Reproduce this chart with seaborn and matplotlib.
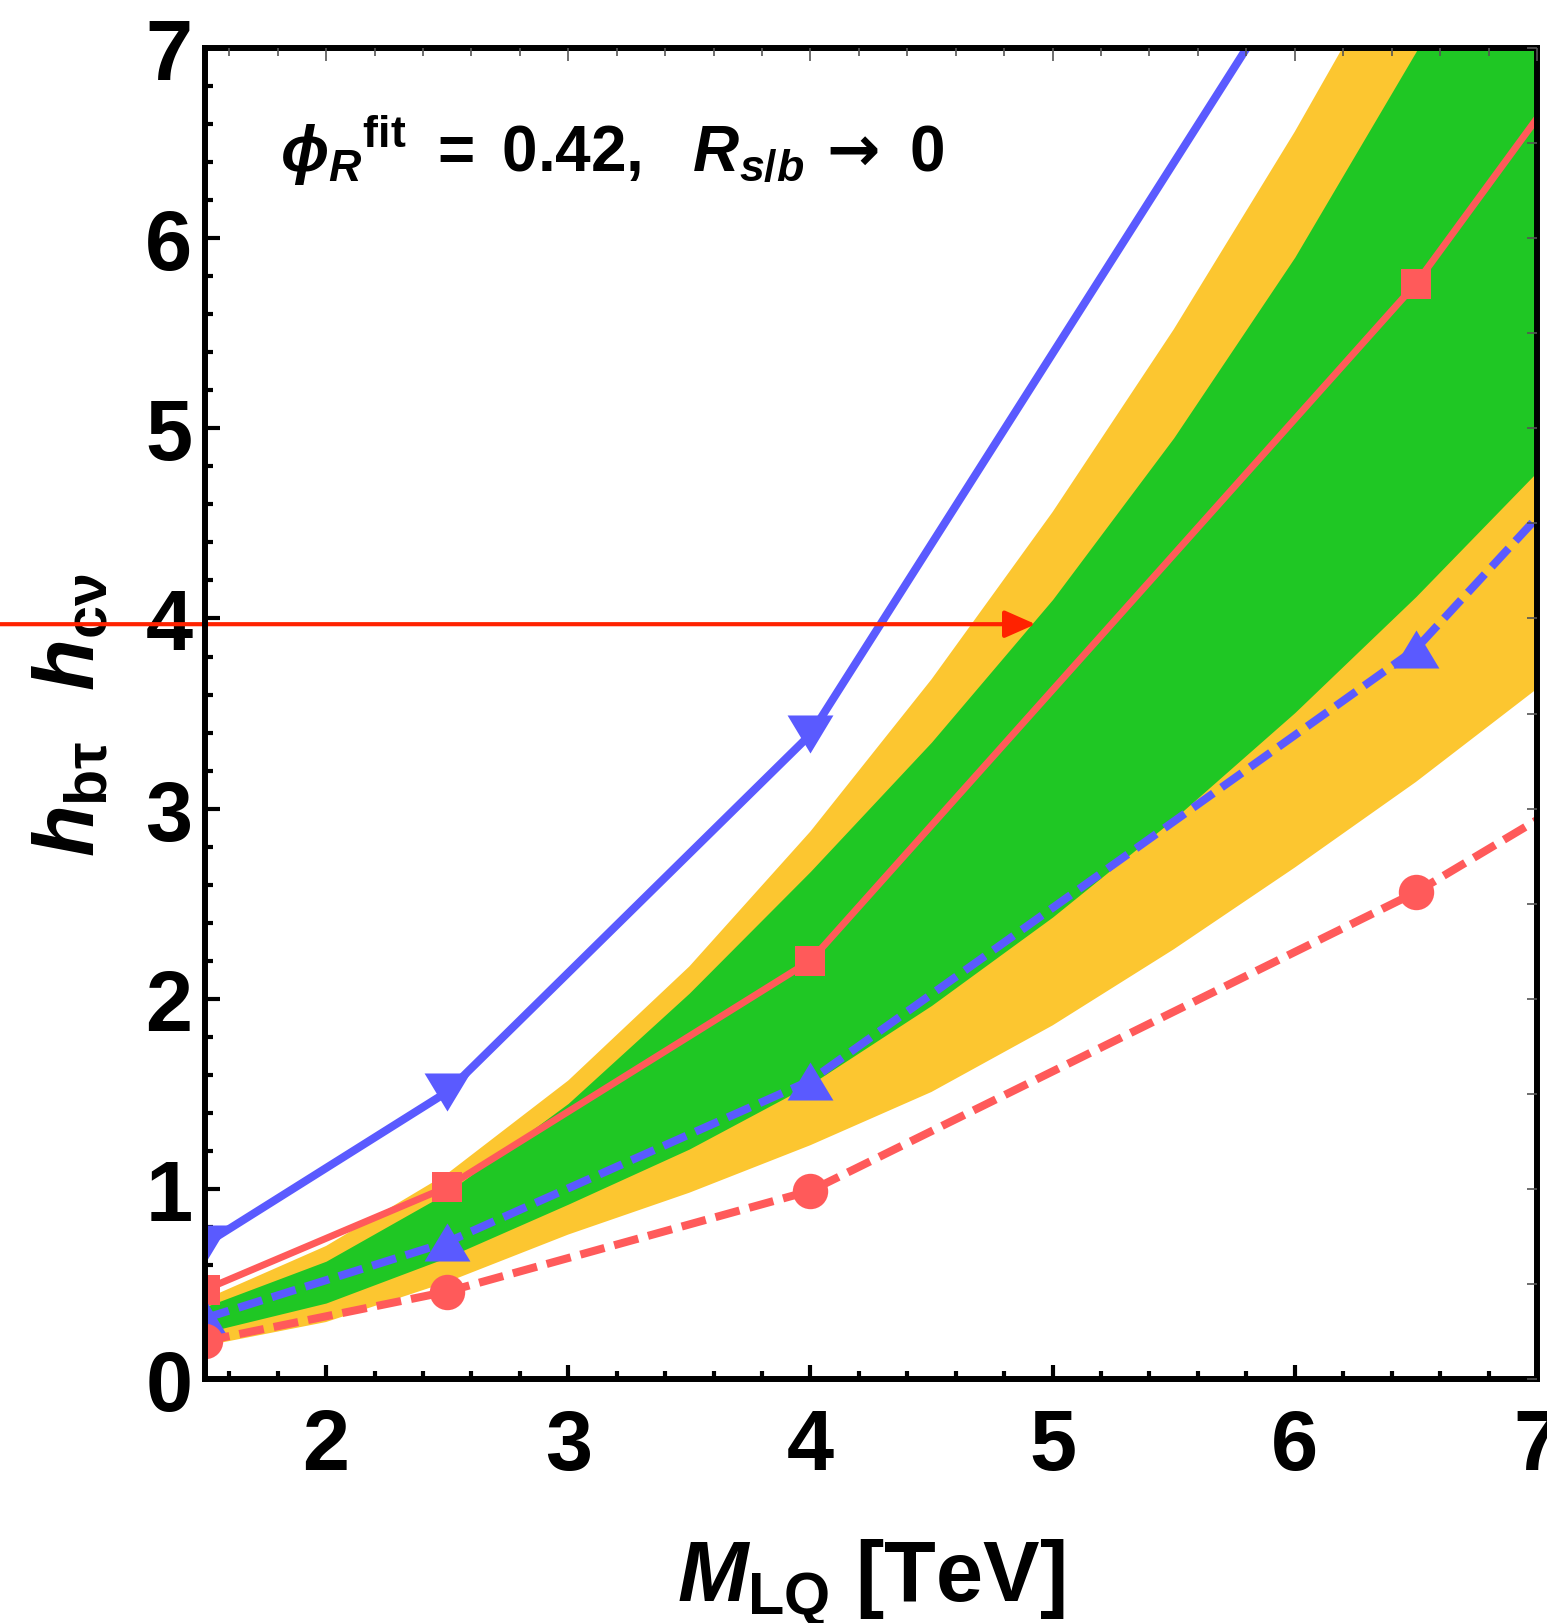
import numpy as np
import pandas as pd
import matplotlib
matplotlib.use("Agg")
import matplotlib.pyplot as plt
import seaborn as sns
from matplotlib import font_manager as fm
from matplotlib.ticker import MultipleLocator, NullLocator

# ---------------- data ----------------
band_mass = [1.5, 2.0, 2.5, 3.0, 3.5, 4.0, 4.5, 5.0, 5.5, 6.0, 6.5, 7.0]
yellow_hi = [0.42, 0.70, 1.08, 1.57, 2.17, 2.88, 3.68, 4.56, 5.52, 6.56, 7.68, 8.88]
green_hi = [0.38, 0.62, 0.98, 1.45, 2.03, 2.67, 3.35, 4.10, 4.95, 5.90, 6.98, 8.20]
green_lo = [0.245, 0.40, 0.64, 0.92, 1.21, 1.55, 1.965, 2.43, 2.945, 3.505, 4.115, 4.77]
yellow_lo = [0.175, 0.30, 0.51, 0.76, 0.98, 1.23, 1.51, 1.86, 2.26, 2.69, 3.14, 3.63]

mass_blue_solid = [1.5, 2.5, 4.0, 6.5]
blue_solid = [0.71, 1.51, 3.39, 8.40]
mass_pts = [1.5, 2.5, 4.0, 6.5, 8.0]
red_solid = [0.47, 1.01, 2.20, 5.76, 8.37]
blue_dashed = [0.32, 0.72, 1.57, 3.84, 5.91]
red_dashed = [0.20, 0.46, 0.99, 2.56, 3.70]

arrow_y = 3.97
arrow_tip_x = 4.93

x_ticks = [2, 3, 4, 5, 6, 7]
y_ticks = [0, 1, 2, 3, 4, 5, 6, 7]

# ---------------- style ----------------
sns.set_theme(style="white")


def available(name):
    try:
        fm.findfont(fm.FontProperties(family=name), fallback_to_default=False)
        return True
    except Exception:
        return False


base = next((f for f in ["Liberation Sans Narrow", "Liberation Sans", "DejaVu Sans"]
             if available(f)), "DejaVu Sans")
plt.rcParams["font.family"] = [base, "DejaVu Sans"]
plt.rcParams["font.weight"] = "bold"
plt.rcParams["text.color"] = "black"
plt.rcParams["axes.labelcolor"] = "black"
plt.rcParams["xtick.color"] = "black"
plt.rcParams["ytick.color"] = "black"
plt.rcParams["mathtext.fontset"] = "custom"
plt.rcParams["mathtext.rm"] = f"{base}:bold"
plt.rcParams["mathtext.bf"] = f"{base}:bold"
plt.rcParams["mathtext.sf"] = "DejaVu Sans:bold"
plt.rcParams["mathtext.it"] = f"{base}:italic:bold"
plt.rcParams["mathtext.fallback"] = "stixsans"

YELLOW = "#FCC630"
GREEN = "#1FC724"
BLUE = "#5A5AFF"
RED = "#FF5A5A"
ARROW = "#FF2200"

TRI_UP = [(0, 0.83), (-1, -0.83), (1, -0.83), (0, 0.83)]
TRI_DOWN = [(0, -0.83), (-1, 0.83), (1, 0.83), (0, -0.83)]

fig = plt.figure(figsize=(15.47, 16.24), dpi=100)
ax = fig.add_axes([0.1325, 0.1502, 0.861, 0.8196])

ax.fill_between(band_mass, yellow_lo, yellow_hi, color=YELLOW, lw=0, zorder=1)
ax.fill_between(band_mass, green_lo, green_hi, color=GREEN, lw=0, zorder=2)

sns.lineplot(x=mass_blue_solid, y=blue_solid, ax=ax, color=BLUE, lw=5.8,
             marker=TRI_DOWN, markersize=33, markeredgewidth=0, zorder=4)
sns.lineplot(x=mass_pts, y=red_solid, ax=ax, color=RED, lw=5.0,
             marker="s", markersize=22, markeredgewidth=0, zorder=4)
sns.lineplot(x=mass_pts, y=blue_dashed, ax=ax, color=BLUE, lw=5.8,
             linestyle=(0, (3.1, 1.25)), marker=TRI_UP, markersize=33,
             markeredgewidth=0, zorder=5)
sns.lineplot(x=mass_pts, y=red_dashed, ax=ax, color=RED, lw=5.8,
             linestyle=(0, (3.1, 1.25)), marker="o", markersize=25.5,
             markeredgewidth=0, zorder=5)

ax.set_xlim(1.5, 7)
ax.set_ylim(0, 7)
ax.set_xticks(x_ticks)
ax.set_yticks(y_ticks)
ax.xaxis.set_minor_locator(MultipleLocator(0.2))
ax.yaxis.set_minor_locator(MultipleLocator(0.2))
ax.tick_params(which="both", direction="in", top=False, right=False,
               color="black", labelcolor="black", width=3)
ax.tick_params(axis="x", which="major", length=10, labelsize=61, pad=20)
ax.tick_params(axis="y", which="major", length=11, labelsize=61, pad=9)
ax.tick_params(which="minor", length=6)
for lab in ax.get_xticklabels() + ax.get_yticklabels():
    lab.set_fontweight("bold")

for sp in ax.spines.values():
    sp.set_visible(True)
    sp.set_linewidth(4.3)
    sp.set_color("black")
    sp.set_zorder(10)

# thin grey ticks on top and right
axt = ax.twiny()
axt.set_xlim(ax.get_xlim())
axt.xaxis.set_major_locator(MultipleLocator(1))
axt.xaxis.set_minor_locator(MultipleLocator(0.2))
axt.tick_params(which="both", direction="in", top=True, bottom=False,
                labeltop=False, labelbottom=False, color="#555555", width=1.2)
axt.tick_params(which="major", length=9)
axt.tick_params(which="minor", length=6)
axr = ax.twinx()
axr.set_ylim(ax.get_ylim())
axr.yaxis.set_major_locator(MultipleLocator(0.5))
axr.yaxis.set_minor_locator(NullLocator())
axr.tick_params(which="both", direction="in", right=True, left=False,
                labelright=False, labelleft=False, color="#555555", width=1.2,
                length=7)
for a in (axt, axr):
    for sp in a.spines.values():
        sp.set_visible(False)
    a.grid(False)

ax.annotate("", xy=(arrow_tip_x, arrow_y), xycoords="data",
            xytext=(0.0, arrow_y), textcoords=("figure fraction", "data"),
            arrowprops=dict(arrowstyle="-|>,head_length=0.95,head_width=0.42",
                            color=ARROW, lw=3, shrinkA=0, shrinkB=0,
                            mutation_scale=20),
            annotation_clip=False, zorder=8)

ax.text(0.056, 0.9075,
        r"${\phi_R}^{\mathrm{fit}}\ =\;0.42,\ \ R_{s/b}\,\mathsf{\rightarrow}\ 0$",
        transform=ax.transAxes, fontsize=46, va="baseline", ha="left", zorder=9)

ax.set_xlabel(r"$M_{\mathrm{LQ}}$ [TeV]", fontsize=61, fontweight="bold")
ax.xaxis.set_label_coords(0.5, -0.118)
ax.set_ylabel(r"$h_{\mathrm{b\tau}}\ \ h_{\mathrm{c\nu}}$", fontsize=61)
ax.yaxis.set_label_coords(-0.10, 0.5)
ax.yaxis.label.set_va("center")
ax.grid(False)

fig.savefig("out.png", dpi=100)
